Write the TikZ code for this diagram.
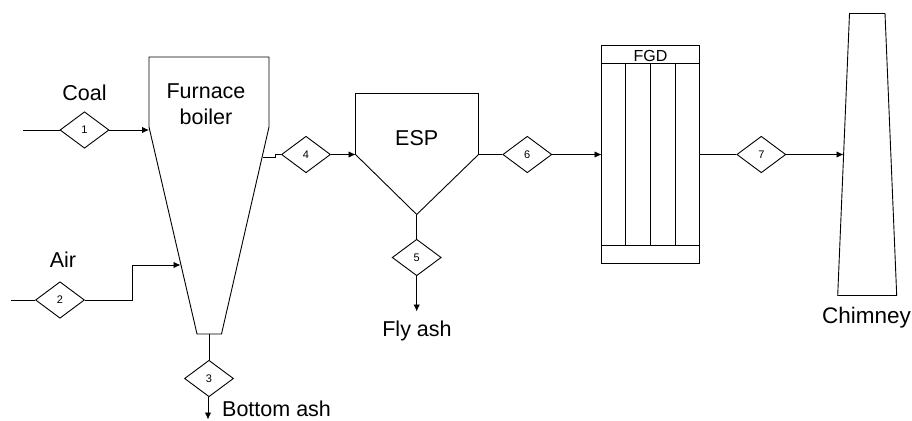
\documentclass[tikz,border=0pt]{standalone}
\usepackage{fontspec}
\setmainfont{Liberation Sans}
\usetikzlibrary{arrows.meta,shapes.geometric}
\tikzset{
  stream/.style = {draw = black, line width = 0.9pt},
  flow/.style = {stream, -{Latex[length = 7pt, width = 6.5pt]}},
  tag/.style = {diamond, draw = black, line width = 0.9pt, aspect = 1.34, inner sep = 0pt, minimum width = 49pt, minimum height = 36.5pt, font = \fontsize{11}{13}\selectfont},
  unit/.style = {stream, line join = miter},
  label/.style = {inner sep = 0pt, font = \fontsize{21.5}{26}\selectfont}
}
\begin{document}
\begin{tikzpicture}[x = 1pt, y = -1pt]
\useasboundingbox (0,0) rectangle (912,420);
% furnace boiler
\coordinate (furnaceTL) at (149,57);
\coordinate (furnaceTR) at (269,57);
\coordinate (furnaceR) at (269,127);
\coordinate (furnaceBR) at (221.5,334);
\coordinate (furnaceBL) at (197,334);
\coordinate (furnaceL) at (149,127);
\draw [unit] (furnaceTL) -- (furnaceTR) -- (furnaceR) -- (furnaceBR) -- (furnaceBL) -- (furnaceL) -- cycle;
% esp
\coordinate (espTL) at (355.5,93.5);
\coordinate (espTR) at (478.5,93.5);
\coordinate (espR) at (478.5,154.5);
\coordinate (espB) at (416.7,214.5);
\coordinate (espL) at (355.5,154.5);
\draw [unit] (espTL) -- (espTR) -- (espR) -- (espB) -- (espL) -- cycle;
% fgd
\draw [unit] (601.5,45.5) rectangle (699.5,263.5);
\draw [unit] (601.5,63.5) -- (699.5,63.5);
\draw [unit] (601.5,245) -- (699.5,245);
\foreach \n in {625.8,650.6,675.3} \draw [unit] (\n,63.5) -- (\n,245);
% chimney
\draw [unit] (849.5,13.5) -- (885,13.5) -- (896.7,295.5) -- (837.7,295.5) -- cycle;
% tags
\node [tag] (tag1) at (84.5,130) {1};
\node [tag] (tag2) at (60,300) {2};
\node [tag] (tag3) at (209,378.5) {3};
\node [tag] (tag4) at (306,154.5) {4};
\node [tag] (tag5) at (416.7,257.5) {5};
\node [tag] (tag6) at (527.3,154.5) {6};
\node [tag] (tag7) at (761.3,154.5) {7};
% free ends
\coordinate (coalIn) at (23,130);
\coordinate (airIn) at (10.5,300);
\coordinate (airBend) at (132.7,300);
\coordinate (airEnd) at (180.5,265);
\coordinate (furnaceOut) at (262.5,157.3);
\coordinate (outBend) at (275.3,157.3);
\coordinate (furnaceDown) at (209,334);
\coordinate (bottomEnd) at (208,419.5);
\coordinate (flyEnd) at (416.7,311.5);
\coordinate (fgdIn) at (601.5,154.5);
\coordinate (fgdOut) at (699.5,154.5);
\coordinate (chimneyIn) at (843.5,154.5);
% streams
\draw [stream] (coalIn) -- (tag1.west);
\draw [flow] (tag1.east) -- (furnaceL |- tag1.east);
\draw [stream] (airIn) -- (tag2.west);
\draw [flow] (tag2.east) -- (airBend) |- (airEnd);
\draw [stream] (furnaceDown) -- (tag3.north);
\draw [flow] (tag3.south -| bottomEnd) -- (bottomEnd);
\draw [stream] (furnaceOut) -- (outBend) |- (tag4.west);
\draw [flow] (tag4.east) -- (espL);
\draw [stream] (espB) -- (tag5.north);
\draw [flow] (tag5.south) -- (flyEnd);
\draw [stream] (espR) -- (tag6.west);
\draw [flow] (tag6.east) -- (fgdIn);
\draw [stream] (fgdOut) -- (tag7.west);
\draw [flow] (tag7.east) -- (chimneyIn);
% labels
\node [label] (coal) at (84.5,92.5) {Coal};
\node [label] (air) at (63,260) {Air};
\node [label, align = center] (furnace) at (206,104.5) {Furnace\\boiler};
\node [label] (esp) at (416.7,138) {ESP};
\node [label, font = \fontsize{16}{19}\selectfont] (fgd) at (650.5,56) {FGD};
\node [label, anchor = west] (bottomash) at (222,408.5) {Bottom ash};
\node [label] (flyash) at (417,331) {Fly ash};
\node [label, font = \fontsize{22.5}{27}\selectfont] (chimney) at (866.5,318) {Chimney};
\end{tikzpicture}
\end{document}
